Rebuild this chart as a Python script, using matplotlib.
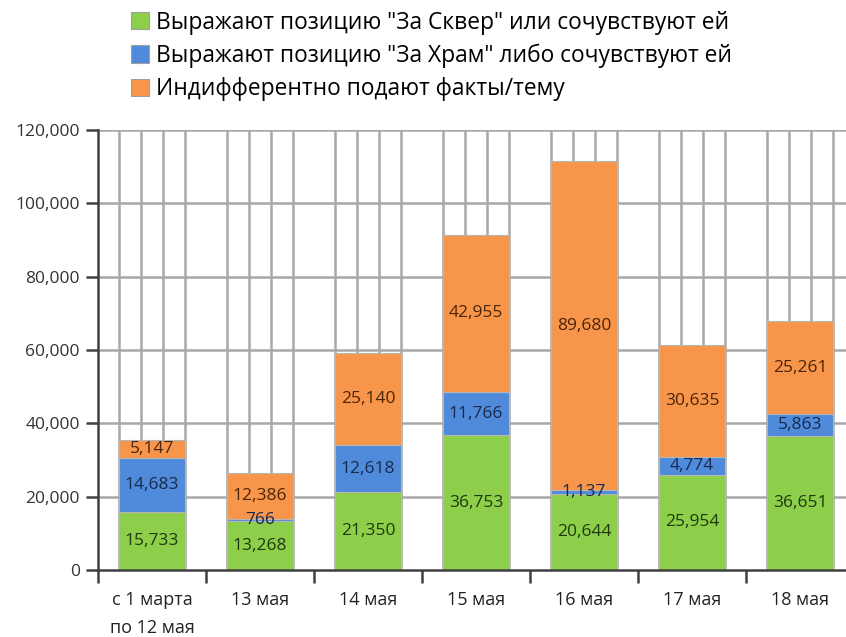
import numpy as np
import matplotlib
matplotlib.use("Agg")
from matplotlib import pyplot as plt
from matplotlib.patches import Patch

# Chart data
categories = ["с 1 марта\nпо 12 мая", "13 мая", "14 мая", "15 мая", "16 мая", "17 мая", "18 мая"]
skver = [15733, 13268, 21350, 36753, 20644, 25954, 36651]
hram = [14683, 766, 12618, 11766, 1137, 4774, 5863]
indiff = [5147, 12386, 25140, 42955, 89680, 30635, 25261]
series_names = [
    'Выражают позицию "За Сквер" или сочувствуют ей',
    'Выражают позицию "За Храм" либо сочувствуют ей',
    'Индифферентно подают факты/тему',
]

GREEN = "#8DCF4B"
BLUE = "#4F8BDA"
ORANGE = "#F7964A"
GRID = "#A8A8A8"
AXIS = "#404040"
BAR_WIDTH = 0.61

plt.rcParams['font.family'] = ['Open Sans', 'DejaVu Sans']

fig = plt.figure(figsize=(8.46, 6.37), dpi=100)
ax = fig.add_axes([98 / 846, 67 / 637, 756 / 846, 440 / 637])

x = np.arange(len(categories))
skver_arr = np.array(skver)
hram_arr = np.array(hram)
indiff_arr = np.array(indiff)

# Vertical grid lines: bar edges and thirds of each bar
for xi in x:
    for off in (-BAR_WIDTH / 2, -BAR_WIDTH / 6, BAR_WIDTH / 6, BAR_WIDTH / 2):
        ax.axvline(xi + off, color=GRID, lw=1.8, zorder=0)
for yv in range(20000, 120001, 20000):
    ax.axhline(yv, color=GRID, lw=1.8, zorder=0)

layers = [
    (skver_arr, np.zeros(len(x)), GREEN, "#1E3A0C"),
    (hram_arr, skver_arr, BLUE, "#172A4C"),
    (indiff_arr, skver_arr + hram_arr, ORANGE, "#4C2408"),
]
for vals, bottom, color, tcolor in layers:
    ax.bar(x, vals, BAR_WIDTH, bottom=bottom, color=color,
           edgecolor="#B5B5B5", linewidth=0.8, zorder=2)
    for xi, v, b in zip(x, vals, bottom):
        ax.text(xi, b + v / 2, f"{v:,}", ha="center", va="center",
                fontsize=12.5, color=tcolor, zorder=3)

ax.set_xlim(-0.5, len(categories) - 0.5)
ax.set_ylim(0, 120000)
ax.set_yticks(range(0, 120001, 20000))
ax.set_yticklabels([f"{v:,}" for v in range(0, 120001, 20000)])

ax.set_xticks(x - 0.5)
ax.set_xticklabels([])
ax.set_xticks(x, minor=True)
ax.set_xticklabels(categories, minor=True)
ax.tick_params(axis="x", which="minor", length=0, pad=15, labelsize=13,
               colors="#222222")
ax.tick_params(axis="x", which="major", length=9, width=1.8, color=AXIS)
ax.tick_params(axis="y", length=9, width=1.8, color=AXIS, labelsize=12.5,
               labelcolor="#333333", pad=4)
for lab in ax.get_xticklabels(minor=True):
    lab.set_linespacing(1.7)

for side in ("top", "right"):
    ax.spines[side].set_visible(False)
for side in ("left", "bottom"):
    ax.spines[side].set_color(AXIS)
    ax.spines[side].set_linewidth(1.8)
    ax.spines[side].set_zorder(4)

handles = [Patch(facecolor=c, edgecolor="#A0A0A0", linewidth=0.8)
           for c in (GREEN, BLUE, ORANGE)]
fig.legend(handles, series_names, loc="upper left",
           bbox_to_anchor=(126 / 846, 1 - 6 / 637), frameon=False,
           handlelength=0.83, handleheight=0.8, borderaxespad=0,
           borderpad=0.2, handletextpad=0.3, labelspacing=0.4,
           prop={'family': ['Open Sans', 'DejaVu Sans'], 'size': 16.4})

fig.savefig("out.png", dpi=100)
